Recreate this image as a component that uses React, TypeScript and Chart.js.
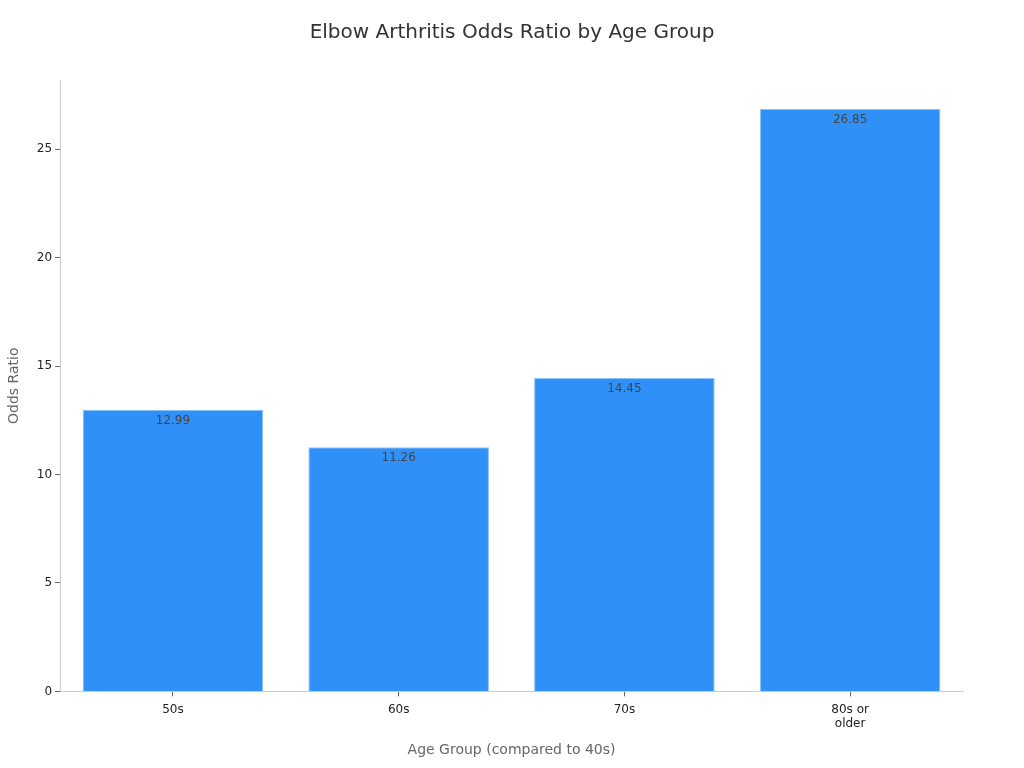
import React, { useEffect, useRef } from 'react';
import { Chart, registerables, Plugin } from 'chart.js';

Chart.register(...registerables);

const categories: (string | string[])[] = ['50s', '60s', '70s', ['80s or', 'older']];
const oddsRatios = [12.99, 11.26, 14.45, 26.85];
const yTicks = [0, 5, 10, 15, 20, 25];
const chartTitle = 'Elbow Arthritis Odds Ratio by Age Group';

const FONT = "'DejaVu Sans', sans-serif";

// draws the value just inside the top of each bar
const barValueLabels: Plugin<'bar'> = {
  id: 'barValueLabels',
  afterDatasetsDraw(chart) {
    const ctx = chart.ctx;
    const meta = chart.getDatasetMeta(0);
    ctx.save();
    ctx.font = `12px ${FONT}`;
    ctx.fillStyle = '#444444';
    ctx.textAlign = 'center';
    ctx.textBaseline = 'top';
    meta.data.forEach((bar, i) => {
      ctx.fillText(oddsRatios[i].toFixed(2), bar.x, bar.y + 5);
    });
    ctx.restore();
  },
};

// title centred on the whole canvas, not the padded layout box
const canvasTitle: Plugin<'bar'> = {
  id: 'canvasTitle',
  afterDraw(chart) {
    const ctx = chart.ctx;
    ctx.save();
    ctx.font = `20px ${FONT}`;
    ctx.fillStyle = '#333333';
    ctx.textAlign = 'center';
    ctx.textBaseline = 'middle';
    ctx.fillText(chartTitle, chart.width / 2, 33);
    ctx.restore();
  },
};

export default function App() {
  const canvasRef = useRef<HTMLCanvasElement | null>(null);

  useEffect(() => {
    document.body.style.margin = '0';
    if (!canvasRef.current) return;

    const chart = new Chart(canvasRef.current, {
      type: 'bar',
      data: {
        labels: categories,
        datasets: [
          {
            data: oddsRatios,
            backgroundColor: '#2f91f8',
            borderColor: '#8cc4fb',
            borderWidth: 1,
            barPercentage: 0.8,
            categoryPercentage: 1,
          },
        ],
      },
      options: {
        responsive: false,
        animation: false,
        layout: { padding: { left: 2, right: 61, top: 80, bottom: 5 } },
        plugins: {
          legend: { display: false },
          tooltip: { enabled: false },
          title: { display: false },
        },
        scales: {
          x: {
            grid: {
              display: true,
              offset: false,
              drawOnChartArea: false,
              drawTicks: true,
              tickLength: 5,
              color: '#666666',
            },
            border: { color: '#cccccc' },
            ticks: { color: '#222222', font: { size: 12, family: FONT }, padding: 6 },
            title: {
              display: true,
              text: 'Age Group (compared to 40s)',
              color: '#666666',
              font: { size: 14, family: FONT },
              padding: { top: 5, bottom: 4 },
            },
          },
          y: {
            min: 0,
            max: 28.19,
            grid: { display: true, drawOnChartArea: false, drawTicks: true, tickLength: 5, color: '#666666' },
            border: { color: '#cccccc' },
            ticks: { color: '#222222', font: { size: 12, family: FONT }, padding: 3 },
            afterBuildTicks: scale => {
              scale.ticks = yTicks.map(v => ({ value: v }));
            },
            title: {
              display: true,
              text: 'Odds Ratio',
              color: '#666666',
              font: { size: 14, family: FONT },
              padding: { top: 4, bottom: 11 },
            },
          },
        },
      },
      plugins: [barValueLabels, canvasTitle],
    });

    return () => chart.destroy();
  }, []);

  return (
    <div style={{ width: 1024, height: 768, background: '#ffffff' }}>
      <canvas ref={canvasRef} width={1024} height={768} style={{ display: 'block' }} />
    </div>
  );
}
